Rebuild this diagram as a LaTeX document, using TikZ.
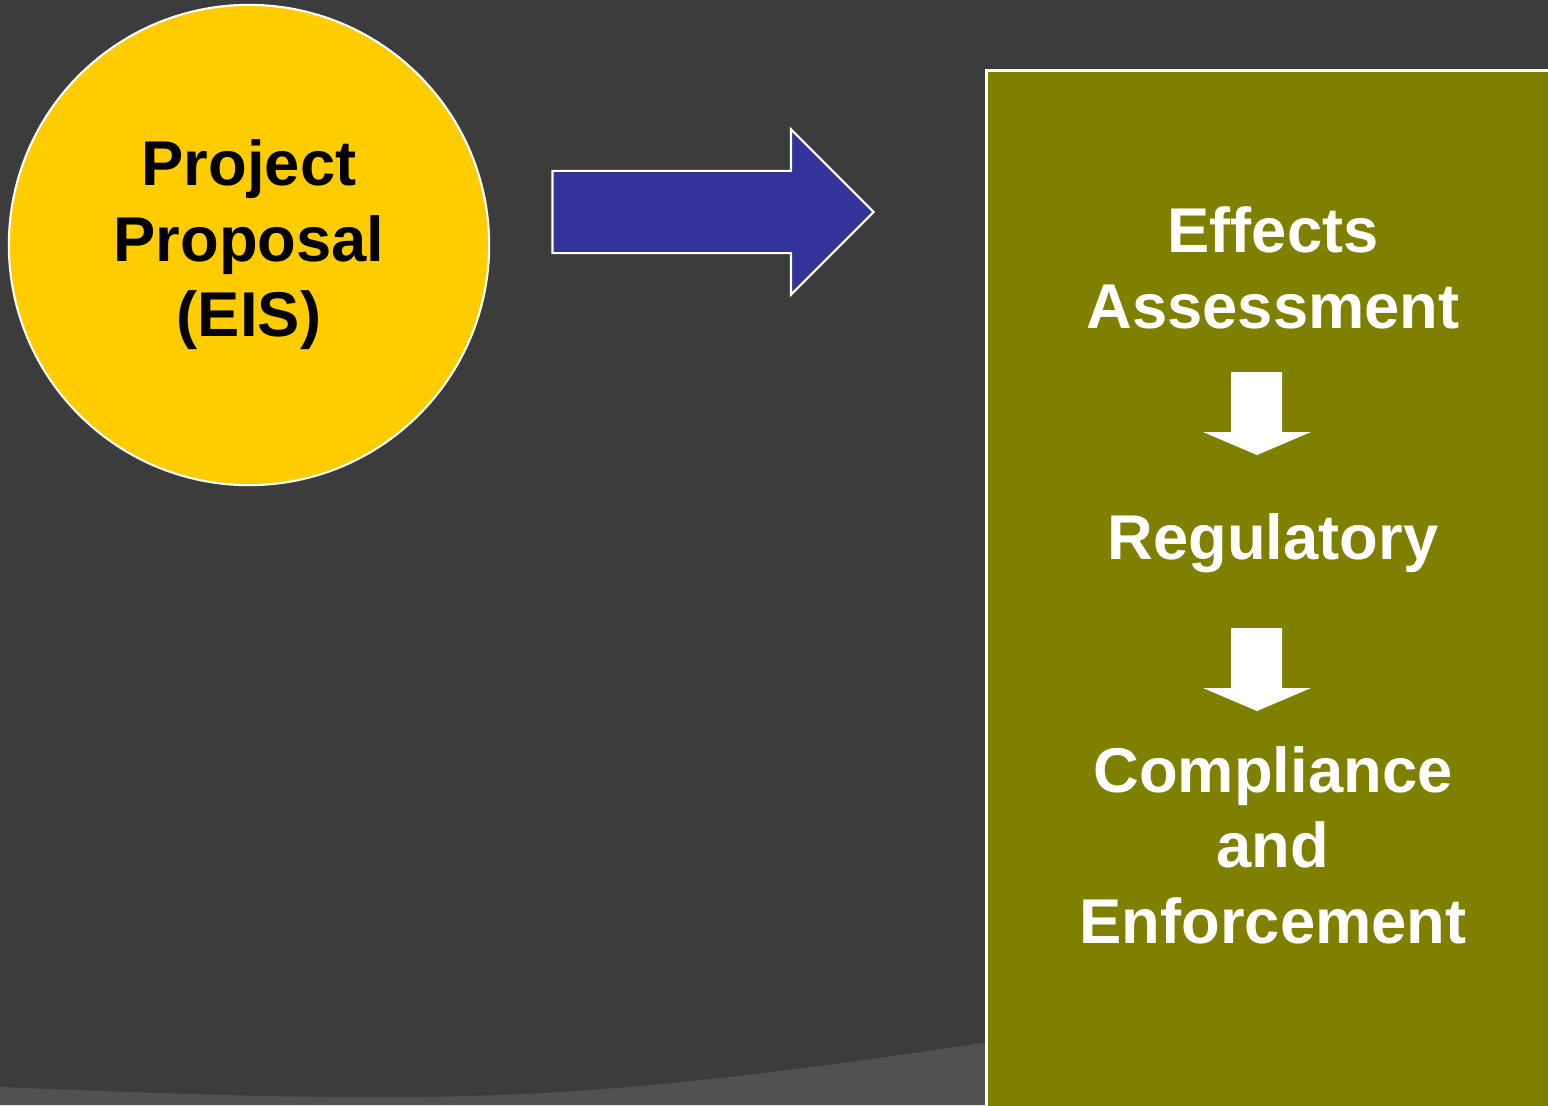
\documentclass[tikz,border=0pt]{standalone}
\usepackage{xcolor}
\usepackage{fontspec}
\setmainfont{Liberation Sans}
\usepackage{tikz}
\usetikzlibrary{shapes,arrows,positioning}

\definecolor{slidebg}{HTML}{3C3C3C}
\definecolor{slideband}{HTML}{515151}
\definecolor{proposalyellow}{HTML}{FFCC00}
\definecolor{flowblue}{HTML}{333399}
\definecolor{stageolive}{HTML}{808000}

\begin{document}
\begin{tikzpicture}[
    x=0.01cm, y=-0.01cm,
    bigtext/.style={font=\fontsize{18pt}{21.5pt}\selectfont\bfseries, align=center, inner sep=0pt},
    bubble/.style={circle, draw=white, line width=0.6pt, fill=proposalyellow, minimum size=4.8cm, bigtext, text=black},
    flowarrow/.style={single arrow, draw=white, line width=0.6pt, fill=flowblue, inner ysep=0.4cm, inner xsep=0pt,
        minimum height=3.21cm, minimum width=1.63cm, single arrow head extend=0.415cm, single arrow tip angle=90},
    stagebox/.style={rectangle, draw=white, line width=0.9pt, fill=stageolive, anchor=north west,
        minimum width=6cm, minimum height=11cm},
    stagetext/.style={bigtext, text=white},
]

% Slide background
\useasboundingbox (0,0) rectangle (1548,1105);
\clip (0,0) rectangle (1548,1105);
\fill[slidebg] (0,0) rectangle (1548,1105);
\fill[slideband] (0,1087) .. controls (200,1095) and (300,1098) .. (420,1097)
    .. controls (650,1094) and (850,1070) .. (1548,950) -- (1548,1105) -- (0,1105) -- cycle;

% Proposal
\node[bubble] (proposal) at (249,245) {Project\\Proposal\\(EIS)};

% Arrow towards the stages
\node[flowarrow] (flow) at (692.5,212) {};

% Stages box
\node[stagebox] (stages) at (985,69) {};
\node[stagetext] (effects) at (1273,268) {Effects\\Assessment};
\node[stagetext] (regulatory) at (1273,543) {Regulatory};
\node[stagetext] (compliance) at (1273,845) {Compliance\\and\\Enforcement};

% Down arrows between stages
\foreach \y in {372,628} {
    \fill[white] (1231,\y) -- (1282,\y) -- (1282,\y+60) -- (1311,\y+60)
        -- (1257,\y+83) -- (1203,\y+60) -- (1231,\y+60) -- cycle;
}

\end{tikzpicture}
\end{document}
